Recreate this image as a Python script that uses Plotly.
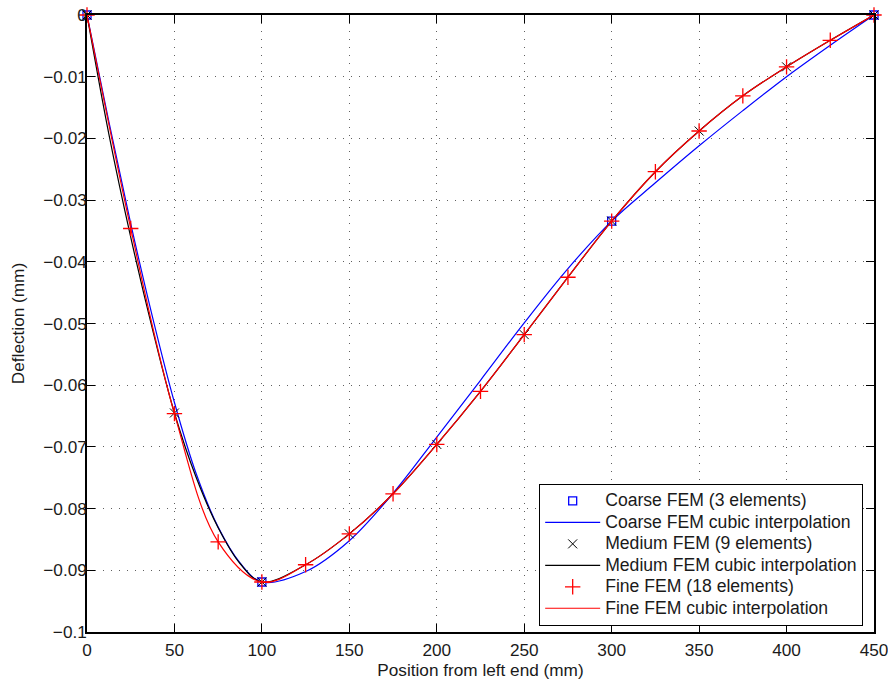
import plotly.graph_objects as go

# ---------------- data ----------------
coarse_x = [0, 100, 300, 450]
coarse_y = [0, -0.0919, -0.0334, 0]

medium_x = [0, 50, 100, 150, 200, 250, 300, 350, 400, 450]
medium_y = [0, -0.0645, -0.0919, -0.0841, -0.0696, -0.0518, -0.0334, -0.0188, -0.0084, 0]

fine_x = [0, 25, 50, 75, 100, 125, 150, 175, 200, 225, 250, 275, 300, 325, 350, 375, 400, 425, 450]
fine_y = [0, -0.0346, -0.0646, -0.0854, -0.0919, -0.0891, -0.0841, -0.0776, -0.0696, -0.0610,
          -0.0518, -0.0425, -0.0334, -0.0254, -0.0188, -0.0131, -0.0084, -0.0041, 0]

# cubic interpolation curves
curve_x = [0, 12.5, 25, 37.5, 50, 62.5, 75, 87.5, 100, 125, 150, 175, 200, 225, 250, 275,
           300, 325, 350, 375, 400, 425, 450]
coarse_curve_y = [0, -0.0173, -0.0338, -0.0490, -0.0628, -0.0744, -0.0830, -0.0888, -0.0919,
                  -0.0902, -0.0852, -0.0775, -0.0684, -0.0592, -0.0499, -0.0411, -0.0334,
                  -0.0272, -0.0212, -0.0155, -0.0100, -0.0049, 0]
medium_curve_y = [0, -0.0193, -0.0360, -0.0510, -0.0645, -0.0750, -0.0831, -0.0889, -0.0919,
                  -0.0891, -0.0841, -0.0776, -0.0696, -0.0610, -0.0518, -0.0425, -0.0334,
                  -0.0254, -0.0188, -0.0131, -0.0084, -0.0041, 0]

x_ticks = [0, 50, 100, 150, 200, 250, 300, 350, 400, 450]
y_ticks = [0, -0.01, -0.02, -0.03, -0.04, -0.05, -0.06, -0.07, -0.08, -0.09, -0.1]
y_tick_text = ["0", "\u22120.01", "\u22120.02", "\u22120.03", "\u22120.04", "\u22120.05",
               "\u22120.06", "\u22120.07", "\u22120.08", "\u22120.09", "\u22120.1"]

legend_names = ["Coarse FEM (3 elements)", "Coarse FEM cubic interpolation",
                "Medium FEM (9 elements)", "Medium FEM cubic interpolation",
                "Fine FEM (18 elements)", "Fine FEM cubic interpolation"]

# ---------------- figure ----------------
FONT = "Liberation Sans, Arial, Helvetica, sans-serif"
TXT = "#1a1a1a"


def lname(s):
    return "<span style='font-size:17.6px'>" + s + "</span>"


fig = go.Figure()

fig.add_trace(go.Scatter(x=coarse_x, y=coarse_y, mode="markers", name=lname(legend_names[0]),
                         marker=dict(symbol="square-open", size=8, color="#0000ff", line=dict(width=1.3)),
                         cliponaxis=False))
fig.add_trace(go.Scatter(x=curve_x, y=coarse_curve_y, mode="lines", name=lname(legend_names[1]),
                         line=dict(color="#0000ff", width=1.2, shape="spline", smoothing=1.0)))
fig.add_trace(go.Scatter(x=medium_x, y=medium_y, mode="markers", name=lname(legend_names[2]),
                         marker=dict(symbol="x-thin", size=9, color="black", line=dict(width=1, color="black")),
                         cliponaxis=False))
fig.add_trace(go.Scatter(x=curve_x, y=medium_curve_y, mode="lines", name=lname(legend_names[3]),
                         line=dict(color="black", width=1.2, shape="spline", smoothing=1.0)))
fig.add_trace(go.Scatter(x=fine_x, y=fine_y, mode="markers", name=lname(legend_names[4]),
                         marker=dict(symbol="cross-thin", size=11, color="#ff0000",
                                     line=dict(width=1.3, color="#ff0000")),
                         cliponaxis=False))
fig.add_trace(go.Scatter(x=fine_x, y=fine_y, mode="lines", name=lname(legend_names[5]),
                         line=dict(color="#ff0000", width=1.2, shape="spline", smoothing=1.0)))

axis_common = dict(
    showline=True, linecolor="black", linewidth=1.5, mirror="ticks",
    ticks="inside", ticklen=8, tickwidth=1, tickcolor="black",
    showgrid=True, gridcolor="#606060", gridwidth=1, griddash="1px,7px",
    zeroline=False, tickfont=dict(family=FONT, size=17.2, color=TXT),
    ticklabeloverflow="allow",
)

fig.update_xaxes(range=[0, 450], tickvals=x_ticks, ticklabelstandoff=2,
                 title=dict(text="Position from left end (mm)", font=dict(family=FONT, size=17.2, color=TXT),
                            standoff=0),
                 **axis_common)
fig.update_yaxes(range=[-0.1, 0], tickvals=y_ticks, ticktext=y_tick_text, ticklabelstandoff=-5,
                 title=dict(text="Deflection (mm)", font=dict(family=FONT, size=17.2, color=TXT),
                            standoff=14),
                 **axis_common)

fig.update_layout(
    width=888, height=681,
    margin=dict(l=87, r=14, t=15, b=49, autoexpand=False),
    paper_bgcolor="white", plot_bgcolor="white",
    font=dict(family=FONT, size=17, color=TXT),
    showlegend=True,
    legend=dict(x=0.986, y=0.0097, xanchor="right", yanchor="bottom",
                bgcolor="white", bordercolor="black", borderwidth=1.2,
                font=dict(family=FONT, size=14.2, color=TXT), tracegroupgap=0,
                itemwidth=55),
)

fig.write_html("out.html", config={"displayModeBar": False},
               post_script="document.body.style.margin='0px';")
